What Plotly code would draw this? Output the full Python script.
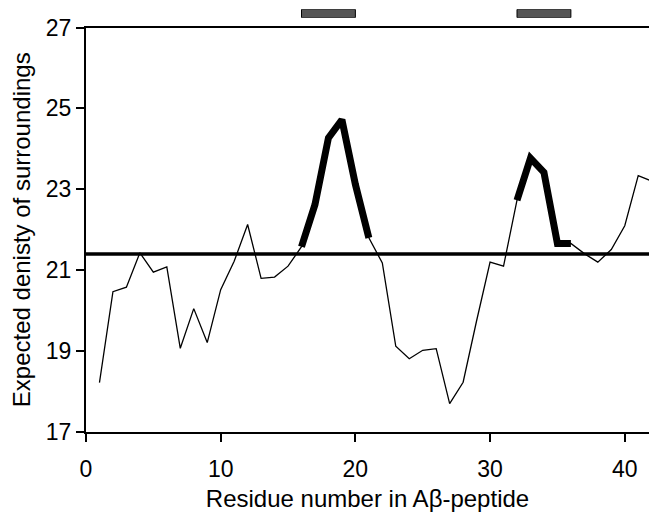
import plotly.graph_objects as go

# ---- data ----
residues = list(range(1, 43))
density = [18.22, 20.47, 20.58, 21.43, 20.95, 21.08, 19.07, 20.05, 19.21, 20.52,
           21.22, 22.13, 20.80, 20.83, 21.10, 21.58, 22.62, 24.27, 24.72, 23.12,
           21.80, 21.18, 19.12, 18.81, 19.02, 19.06, 17.70, 18.23, 19.75, 21.20,
           21.10, 22.73, 23.77, 23.42, 21.66, 21.66, 21.41, 21.20, 21.51, 22.10,
           23.34, 23.20]
threshold = 21.4
highlight_ranges = [(16, 21), (32, 36)]
bar_starts = [16, 32]
bar_ends = [20, 36]
y_ticks = [17, 19, 21, 23, 25, 27]
x_ticks = [0, 10, 20, 30, 40]

FONT = "Arial, Liberation Sans, Helvetica, sans-serif"

fig = go.Figure()

# thin full profile
fig.add_trace(go.Scatter(x=residues, y=density, mode="lines",
                         line=dict(color="black", width=1.3),
                         showlegend=False, hoverinfo="skip"))

# thick highlighted segments
for lo, hi in highlight_ranges:
    xs = [r for r in residues if lo <= r <= hi]
    ys = [density[residues.index(r)] for r in xs]
    fig.add_trace(go.Scatter(x=xs, y=ys, mode="lines",
                             line=dict(color="black", width=7),
                             showlegend=False, hoverinfo="skip"))

# grey bars above the plot
fig.add_trace(go.Bar(
    y=[0.5] * len(bar_starts),
    x=[e - s for s, e in zip(bar_starts, bar_ends)],
    base=bar_starts,
    orientation="h", width=1,
    marker=dict(color="#555555", line=dict(color="black", width=1)),
    xaxis="x", yaxis="y2", showlegend=False, hoverinfo="skip"))

# threshold line
fig.add_shape(type="line", xref="x domain", yref="y", x0=0, x1=1,
              y0=threshold, y1=threshold,
              line=dict(color="black", width=3.5))

H = 512
b = 80
plot_h = H - b
main_top = (plot_h - 27.5) / plot_h

fig.update_layout(
    width=649, height=H,
    margin=dict(l=86, r=0, t=0, b=b, pad=0, autoexpand=False),
    paper_bgcolor="white", plot_bgcolor="white",
    font=dict(family=FONT, color="black", size=22),
    bargap=0,
    xaxis=dict(range=[0, 41.8], tickvals=x_ticks, ticks="outside", ticklen=8,
               tickwidth=2, tickcolor="black", showline=True, linecolor="black",
               linewidth=2, mirror=True, showgrid=False, zeroline=False,
               tickfont=dict(size=23), anchor="y", automargin=False,
               ticklabelstandoff=7,
               title=dict(text="Residue number in Aβ-peptide",
                          font=dict(size=24), standoff=12)),
    yaxis=dict(range=[17, 27], tickvals=y_ticks, ticks="outside", ticklen=8,
               tickwidth=2, tickcolor="black", showline=True, linecolor="black",
               linewidth=2, showgrid=False, zeroline=False, automargin=False,
               domain=[0, main_top], tickfont=dict(size=23),
               title=dict(text="Expected denisty of surroundings",
                          font=dict(size=24), standoff=8)),
    yaxis2=dict(domain=[(plot_h - 17.7) / plot_h, (plot_h - 9.3) / plot_h],
                range=[0, 1], visible=False, anchor="x", fixedrange=True),
)

fig.write_html("out.html", config={"displayModeBar": False, "staticPlot": True},
               post_script="document.body.style.margin='0';document.body.style.overflow='hidden';")
